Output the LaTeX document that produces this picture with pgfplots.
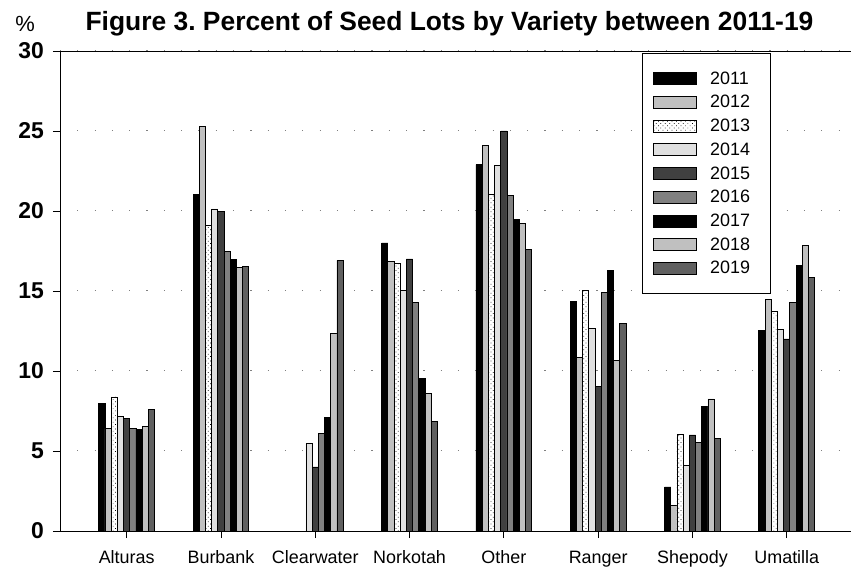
\documentclass[border=0pt]{standalone}
\usepackage{fontspec}
\setmainfont{Liberation Sans}
\usepackage{pgfplots}
\pgfplotsset{compat=1.18}
\usetikzlibrary{patterns.meta}
\frenchspacing
\definecolor{cA}{RGB}{0,0,0}
\definecolor{cB}{RGB}{192,192,192}
\definecolor{cD}{RGB}{224,224,224}
\definecolor{cE}{RGB}{64,64,64}
\definecolor{cF}{RGB}{128,128,128}
\definecolor{cI}{RGB}{96,96,96}
\begin{document}
\begin{tikzpicture}
\begin{axis}[
  at={(0,0)}, anchor=south west,
  scale only axis, width=791bp, height=480bp,
  xmin=-0.707, xmax=7.681, ymin=0, ymax=30,
  ybar=0pt, bar width=6.2bp,
  axis x line*=bottom, axis y line*=left,
  axis line style={black, line width=0.8bp},
  xtick={0,...,7},
  xticklabels={Alturas,Burbank,Clearwater,Norkotah,Other,Ranger,Shepody,Umatilla},
  ytick={0,5,...,30},
  tick align=outside, major tick length=7bp,
  tick style={black, line width=0.8bp},
  /pgf/number format/assume math mode=true,
  xticklabel style={font=\fontsize{18}{18}\selectfont, inner sep=0pt, text height=13.2bp, text depth=3.8bp, anchor=north, yshift=-12bp},
  yticklabel style={font=\fontsize{23}{23}\selectfont\bfseries, inner sep=0pt, anchor=east, xshift=-9bp},
  ymajorgrids,
  major grid style={gray, line width=1bp, dash pattern=on 1.2bp off 16.1bp},
  legend style={at={(582bp,478bp)}, anchor=north west, draw=black, line width=0.8bp,
    inner xsep=11bp, inner ysep=13.5bp, row sep=0pt, column sep=13bp,
    nodes={inner sep=0pt, minimum height=23.7bp, text width=49bp, align=left, font=\fontsize{18}{18}\selectfont}},
  legend cell align=left,
  legend image code/.code={\draw[#1, line width=0.8bp] (0bp,-6bp) rectangle (43bp,6bp);},
]
\addplot[fill=cA, draw=black, line width=0.8bp] coordinates {(0,7.95) (1,21.05) (3,18.0) (4,22.9) (5,14.35) (6,2.75) (7,12.55)};
\addplot[fill=cB, draw=black, line width=0.8bp] coordinates {(0,6.42) (1,25.3) (3,16.85) (4,24.1) (5,10.87) (6,1.6) (7,14.45)};
\addplot[fill=white, draw=black, line width=0.8bp, postaction={pattern={Dots[distance=3.2bp, radius=0.5bp, angle=45]}, pattern color=black}] coordinates {(0,8.38) (1,19.07) (3,16.72) (4,21.05) (5,15.05) (6,6.05) (7,13.7)};
\addplot[fill=cD, draw=black, line width=0.8bp] coordinates {(0,7.17) (1,20.13) (2,5.48) (3,15.02) (4,22.85) (5,12.65) (6,4.08) (7,12.62)};
\addplot[fill=cE, draw=black, line width=0.8bp] coordinates {(0,7.02) (1,19.98) (2,4.0) (3,17.0) (4,25.0) (5,9.02) (6,6.0) (7,12.0)};
\addplot[fill=cF, draw=black, line width=0.8bp] coordinates {(0,6.4) (1,17.47) (2,6.1) (3,14.29) (4,20.98) (5,14.92) (6,5.52) (7,14.3)};
\addplot[fill=cA, draw=black, line width=0.8bp] coordinates {(0,6.37) (1,16.98) (2,7.08) (3,9.55) (4,19.45) (5,16.3) (6,7.78) (7,16.62)};
\addplot[fill=cB, draw=black, line width=0.8bp] coordinates {(0,6.52) (1,16.48) (2,12.37) (3,8.6) (4,19.23) (5,10.67) (6,8.25) (7,17.85)};
\addplot[fill=cI, draw=black, line width=0.8bp] coordinates {(0,7.58) (1,16.55) (2,16.92) (3,6.85) (4,17.62) (5,12.98) (6,5.78) (7,15.82)};
\legend{2011,2012,2013,2014,2015,2016,2017,2018,2019}
\draw[black, line width=0.8bp] (rel axis cs:0,1) -- (rel axis cs:1,1);
\end{axis}
\node[anchor=base, font=\fontsize{26.5}{26.5}\selectfont\bfseries, inner sep=0pt] at (389.5bp,500bp) {Figure 3. Percent of Seed Lots by Variety between 2011-19};
\node[font=\fontsize{22}{22}\selectfont, inner sep=0pt] at (-35bp,507.5bp) {\%};
\pgfresetboundingbox
\path[use as bounding box] (-60bp,-36bp) rectangle (791bp,531bp);
\end{tikzpicture}
\end{document}
